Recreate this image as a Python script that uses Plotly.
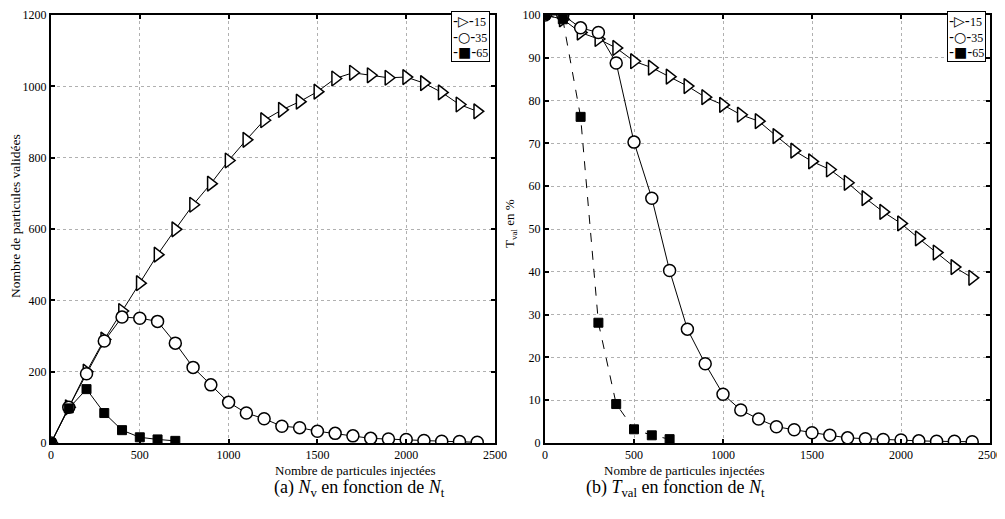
import plotly.graph_objects as go
from plotly.subplots import make_subplots

# --- Données ---
nt = [0, 100, 200, 300, 400, 500, 600, 700, 800, 900, 1000, 1100, 1200,
      1300, 1400, 1500, 1600, 1700, 1800, 1900, 2000, 2100, 2200, 2300, 2400]
nt_65 = [0, 100, 200, 300, 400, 500, 600, 700]

# (a) nombre de particules validées
nv_15 = [0, 100, 200, 290, 370, 448, 528, 599, 668, 727, 792, 850, 905,
         934, 957, 985, 1022, 1038, 1031, 1024, 1026, 1009, 983, 949, 930]
nv_35 = [0, 100, 194, 286, 353, 350, 341, 280, 212, 163, 114, 84, 68,
         47, 43, 33, 27, 20, 13, 11, 10, 7, 5, 4, 2]
nv_65 = [0, 97, 151, 84, 36, 16, 10, 6]

# (b) taux de validation en %
tv_15 = [100, 99, 95.9, 94.4, 92.3, 89.2, 87.7, 85.6, 83.4, 80.8, 79.0, 76.7, 75.2,
         71.7, 68.3, 65.8, 63.9, 60.8, 57.2, 54.0, 51.3, 47.8, 44.5, 41.1, 38.6]
tv_35 = [100, 100, 97.0, 95.9, 88.8, 70.3, 57.2, 40.3, 26.6, 18.5, 11.4, 7.7, 5.6,
         3.8, 3.1, 2.4, 1.8, 1.2, 1.0, 0.8, 0.7, 0.5, 0.4, 0.4, 0.3]
tv_65 = [100, 99.0, 76.2, 28.1, 9.1, 3.2, 1.8, 0.9]

labels = ["15", "35", "65"]
legend_symbols = ["▷", "○", "■"]

FONT = "Liberation Serif"
# la page HTML garde la marge de 8 px du <body> : on réduit la figure d'autant
W, H = 997, 511

fig = make_subplots(rows=1, cols=2, horizontal_spacing=0.05)

styles = [
    dict(symbol="triangle-right", size=13, color="white", line=dict(color="black", width=1.5)),
    dict(symbol="circle", size=12, color="white", line=dict(color="black", width=1.5)),
    dict(symbol="square", size=9, color="black", line=dict(color="black", width=1)),
]

for xs, ys, lab, st in zip([nt, nt, nt_65], [nv_15, nv_35, nv_65], labels, styles):
    fig.add_trace(go.Scatter(x=xs, y=ys, mode="lines+markers", name=lab,
                             line=dict(color="black", width=1), marker=st),
                  row=1, col=1)

dashes = ["solid", "solid", "dash"]
for xs, ys, lab, st, d in zip([nt, nt, nt_65], [tv_15, tv_35, tv_65], labels, styles, dashes):
    fig.add_trace(go.Scatter(x=xs, y=ys, mode="lines+markers", name=lab,
                             line=dict(color="black", width=1, dash=d), marker=st),
                  row=1, col=2)

axis_common = dict(
    showline=True, linecolor="black", linewidth=2, mirror="ticks",
    ticks="inside", ticklen=4, tickwidth=2, tickcolor="black",
    showgrid=True, gridcolor="#b0b0b0", griddash="dot", gridwidth=1,
    zeroline=False, automargin=False,
    tickfont=dict(family=FONT, size=12, color="black"),
)

TOP, BOT = 7, 435   # bord haut / bas des graphes (px dans la figure)

fig.update_xaxes(**axis_common, range=[0, 2500], dtick=500)
fig.update_xaxes(domain=[43 / W, 487 / W], row=1, col=1)
fig.update_xaxes(domain=[537 / W, 982 / W], row=1, col=2)

fig.update_yaxes(**axis_common, domain=[1 - BOT / H, 1 - TOP / H])
fig.update_yaxes(range=[0, 1200], dtick=200, row=1, col=1)
fig.update_yaxes(range=[0, 100], dtick=10, row=1, col=2)

fig.update_layout(
    width=W, height=H,
    margin=dict(l=0, r=0, t=0, b=0),
    plot_bgcolor="white", paper_bgcolor="white",
    showlegend=False,
)

def note(text, x, y, size, **kw):
    fig.add_annotation(text=text, xref="paper", yref="paper", x=x / W, y=1 - y / H,
                       showarrow=False, font=dict(family=FONT, size=size, color="black"), **kw)

# titres des axes
for cx in (265, 759):
    note("Nombre de particules injectées", cx, 462, 13, yanchor="middle")
note("Nombre de particules validées", 7, 208, 13.5, textangle=-90,
     xanchor="center", yanchor="middle")
note("T<sub>val</sub> en %", 502, 215, 13, textangle=-90,
     xanchor="center", yanchor="middle")

# légendes (cadre en haut à droite de chaque graphe)
leg_text = "<br>".join(
    f'<span style="font-family:DejaVu Sans;font-size:14px">-{s}-</span>{lab}'
    for s, lab in zip(legend_symbols, labels))
for rx in (482, 978):
    note(leg_text, rx, 3, 12, xanchor="right", yanchor="top", align="left",
         bgcolor="white", bordercolor="black", borderwidth=1, borderpad=1)

# légendes des sous-figures
note("(a) <i>N</i><sub>v</sub> en fonction de <i>N</i><sub>t</sub>", 264, 480, 18,
     yanchor="middle")
note("(b) <i>T</i><sub>val</sub> en fonction de <i>N</i><sub>t</sub>", 759, 480, 18,
     yanchor="middle")

fig.write_html("out.html")
